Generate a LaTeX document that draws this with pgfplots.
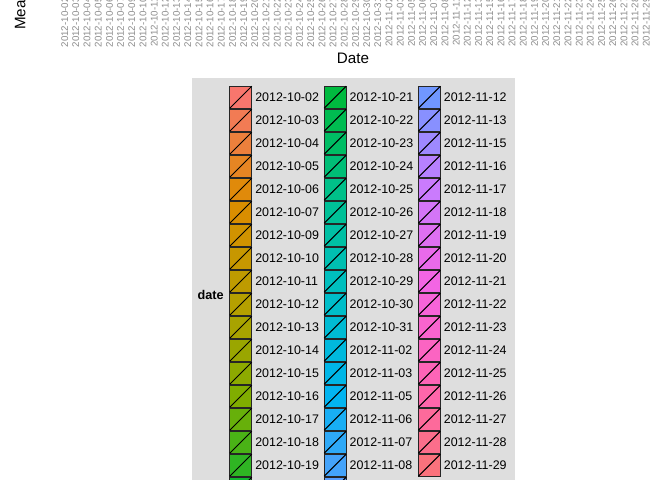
\documentclass[border=0pt]{standalone}
\usepackage{pgfplots}
\pgfplotsset{compat=1.18}
\usepackage{fontspec}
\setmainfont{Liberation Sans}
% ggplot hue palette anchors (h = 15, 45, ..., 375; c=100, l=65)
\definecolor{A0}{RGB}{248,118,109}
\definecolor{A1}{RGB}{222,140,0}
\definecolor{A2}{RGB}{183,159,0}
\definecolor{A3}{RGB}{124,174,0}
\definecolor{A4}{RGB}{0,186,56}
\definecolor{A5}{RGB}{0,192,139}
\definecolor{A6}{RGB}{0,191,196}
\definecolor{A7}{RGB}{0,180,240}
\definecolor{A8}{RGB}{97,156,255}
\definecolor{A9}{RGB}{199,124,255}
\definecolor{A10}{RGB}{245,100,227}
\definecolor{A11}{RGB}{255,100,176}
\definecolor{A12}{RGB}{248,118,109}
\foreach \i in {0,...,52}{%
  \pgfmathtruncatemacro\ia{floor(\i*12/53)}%
  \pgfmathtruncatemacro\ib{\ia+1}%
  \pgfmathtruncatemacro\ff{round((\i*12/53-\ia)*100)}%
  \xglobal\colorlet{c\i}{A\ib!\ff!A\ia}%
}
\definecolor{tickgray}{RGB}{140,140,140}
\definecolor{legbg}{RGB}{222,222,222}
\pgfplotsset{
  keybox/.style={legend image code/.code={
    \draw[##1, draw=black!85, line width=0.6bp] (0bp,-8.25bp) rectangle (16.5bp,8.25bp);
    \draw[black, line width=0.75bp] (0bp,-8.25bp) -- (16.5bp,8.25bp);}},
  bx/.style={ybar, bar width=7bp, bar shift=0pt, draw=black!85, keybox},
}
\begin{document}
\begin{tikzpicture}
\useasboundingbox (0,0) rectangle (504bp,360bp);
\begin{scope}
\clip (0,0) rectangle (504bp,360bp);
\fill[legbg] (144bp,-5bp) rectangle (386.25bp,301.5bp);
\node[font=\bfseries\fontsize{9.5bp}{11bp}\selectfont, text depth=0pt, inner sep=0pt] at (157.9bp,138.75bp) {date};
\begin{axis}[
  at={(43.5bp,367.5bp)}, anchor=south west,
  scale only axis, width=446.25bp, height=60bp,
  xmin=-0.6, xmax=52.6, ymin=0, ymax=80,
  xtick={0,...,52},
  xticklabels={2012-10-02,2012-10-03,2012-10-04,2012-10-05,2012-10-06,2012-10-07,2012-10-09,2012-10-10,2012-10-11,2012-10-12,2012-10-13,2012-10-14,2012-10-15,2012-10-16,2012-10-17,2012-10-18,2012-10-19,2012-10-20,2012-10-21,2012-10-22,2012-10-23,2012-10-24,2012-10-25,2012-10-26,2012-10-27,2012-10-28,2012-10-29,2012-10-30,2012-10-31,2012-11-02,2012-11-03,2012-11-05,2012-11-06,2012-11-07,2012-11-08,2012-11-11,2012-11-12,2012-11-13,2012-11-15,2012-11-16,2012-11-17,2012-11-18,2012-11-19,2012-11-20,2012-11-21,2012-11-22,2012-11-23,2012-11-24,2012-11-25,2012-11-26,2012-11-27,2012-11-28,2012-11-29},
  xticklabel style={rotate=90, anchor=east, inner sep=0pt, font=\fontsize{7.3bp}{8bp}\selectfont, text=tickgray},
  xticklabel shift=5.4bp,
  /pgf/number format/assume math mode=true,
  xlabel={Date},
  xlabel style={at={(axis description cs:0.5,0)}, anchor=center, yshift=-51bp, xshift=-1.9bp, inner sep=0pt, font=\fontsize{11.4bp}{13bp}\selectfont},
  ylabel={Mean number of steps},
  ylabel style={at={(axis description cs:-0.0639,-0.5)}, anchor=west, inner sep=0pt, text depth=0pt, font=\fontsize{11.4bp}{13bp}\selectfont},
  axis background/.style={fill=white},
  legend columns=3,
  legend cell align=left,
  legend style={at={(0.2879,-1.196)}, anchor=north west, draw=none, fill=none,
    inner sep=0pt, outer sep=0pt, row sep=0pt, column sep=0pt,
    cells={anchor=west},
    nodes={inner sep=0pt, outer sep=0pt, text depth=0pt},
    font=\fontsize{9.33bp}{11bp}\selectfont,
    /tikz/every odd column/.append style={column sep=2.25bp},
    /tikz/every even column/.append style={column sep=3.5bp}},
]
% row-major order: col1 = 0..17, col2 = 18..35, col3 = 36..52
\addplot[bx, fill=c0] coordinates {(0,0.44)}; \addlegendentry{2012-10-02}
\addplot[bx, fill=c18] coordinates {(18,30.63)}; \addlegendentry{2012-10-21}
\addplot[bx, fill=c36] coordinates {(36,37.38)}; \addlegendentry{2012-11-12}
\addplot[bx, fill=c1] coordinates {(1,39.42)}; \addlegendentry{2012-10-03}
\addplot[bx, fill=c19] coordinates {(19,46.74)}; \addlegendentry{2012-10-22}
\addplot[bx, fill=c37] coordinates {(37,25.47)}; \addlegendentry{2012-11-13}
\addplot[bx, fill=c2] coordinates {(2,42.07)}; \addlegendentry{2012-10-04}
\addplot[bx, fill=c20] coordinates {(20,30.97)}; \addlegendentry{2012-10-23}
\addplot[bx, fill=c38] coordinates {(38,0.14)}; \addlegendentry{2012-11-15}
\addplot[bx, fill=c3] coordinates {(3,46.16)}; \addlegendentry{2012-10-05}
\addplot[bx, fill=c21] coordinates {(21,29.01)}; \addlegendentry{2012-10-24}
\addplot[bx, fill=c39] coordinates {(39,18.89)}; \addlegendentry{2012-11-16}
\addplot[bx, fill=c4] coordinates {(4,53.54)}; \addlegendentry{2012-10-06}
\addplot[bx, fill=c22] coordinates {(22,8.65)}; \addlegendentry{2012-10-25}
\addplot[bx, fill=c40] coordinates {(40,49.79)}; \addlegendentry{2012-11-17}
\addplot[bx, fill=c5] coordinates {(5,38.25)}; \addlegendentry{2012-10-07}
\addplot[bx, fill=c23] coordinates {(23,23.53)}; \addlegendentry{2012-10-26}
\addplot[bx, fill=c41] coordinates {(41,52.47)}; \addlegendentry{2012-11-18}
\addplot[bx, fill=c6] coordinates {(6,44.48)}; \addlegendentry{2012-10-09}
\addplot[bx, fill=c24] coordinates {(24,35.14)}; \addlegendentry{2012-10-27}
\addplot[bx, fill=c42] coordinates {(42,30.70)}; \addlegendentry{2012-11-19}
\addplot[bx, fill=c7] coordinates {(7,34.38)}; \addlegendentry{2012-10-10}
\addplot[bx, fill=c25] coordinates {(25,39.78)}; \addlegendentry{2012-10-28}
\addplot[bx, fill=c43] coordinates {(43,15.53)}; \addlegendentry{2012-11-20}
\addplot[bx, fill=c8] coordinates {(8,35.78)}; \addlegendentry{2012-10-11}
\addplot[bx, fill=c26] coordinates {(26,17.42)}; \addlegendentry{2012-10-29}
\addplot[bx, fill=c44] coordinates {(44,44.40)}; \addlegendentry{2012-11-21}
\addplot[bx, fill=c9] coordinates {(9,60.35)}; \addlegendentry{2012-10-12}
\addplot[bx, fill=c27] coordinates {(27,34.09)}; \addlegendentry{2012-10-30}
\addplot[bx, fill=c45] coordinates {(45,70.93)}; \addlegendentry{2012-11-22}
\addplot[bx, fill=c10] coordinates {(10,43.15)}; \addlegendentry{2012-10-13}
\addplot[bx, fill=c28] coordinates {(28,53.52)}; \addlegendentry{2012-10-31}
\addplot[bx, fill=c46] coordinates {(46,73.59)}; \addlegendentry{2012-11-23}
\addplot[bx, fill=c11] coordinates {(11,52.42)}; \addlegendentry{2012-10-14}
\addplot[bx, fill=c29] coordinates {(29,36.81)}; \addlegendentry{2012-11-02}
\addplot[bx, fill=c47] coordinates {(47,50.27)}; \addlegendentry{2012-11-24}
\addplot[bx, fill=c12] coordinates {(12,35.20)}; \addlegendentry{2012-10-15}
\addplot[bx, fill=c30] coordinates {(30,36.70)}; \addlegendentry{2012-11-03}
\addplot[bx, fill=c48] coordinates {(48,41.09)}; \addlegendentry{2012-11-25}
\addplot[bx, fill=c13] coordinates {(13,52.38)}; \addlegendentry{2012-10-16}
\addplot[bx, fill=c31] coordinates {(31,36.25)}; \addlegendentry{2012-11-05}
\addplot[bx, fill=c49] coordinates {(49,38.76)}; \addlegendentry{2012-11-26}
\addplot[bx, fill=c14] coordinates {(14,46.71)}; \addlegendentry{2012-10-17}
\addplot[bx, fill=c32] coordinates {(32,28.94)}; \addlegendentry{2012-11-06}
\addplot[bx, fill=c50] coordinates {(50,47.38)}; \addlegendentry{2012-11-27}
\addplot[bx, fill=c15] coordinates {(15,34.92)}; \addlegendentry{2012-10-18}
\addplot[bx, fill=c33] coordinates {(33,44.73)}; \addlegendentry{2012-11-07}
\addplot[bx, fill=c51] coordinates {(51,35.36)}; \addlegendentry{2012-11-28}
\addplot[bx, fill=c16] coordinates {(16,41.07)}; \addlegendentry{2012-10-19}
\addplot[bx, fill=c34] coordinates {(34,11.18)}; \addlegendentry{2012-11-08}
\addplot[bx, fill=c52] coordinates {(52,24.47)}; \addlegendentry{2012-11-29}
\addplot[bx, fill=c17] coordinates {(17,36.09)}; \addlegendentry{2012-10-20}
\addplot[bx, fill=c35] coordinates {(35,43.78)}; \addlegendentry{2012-11-11}
\end{axis}
\end{scope}
\end{tikzpicture}
\end{document}
